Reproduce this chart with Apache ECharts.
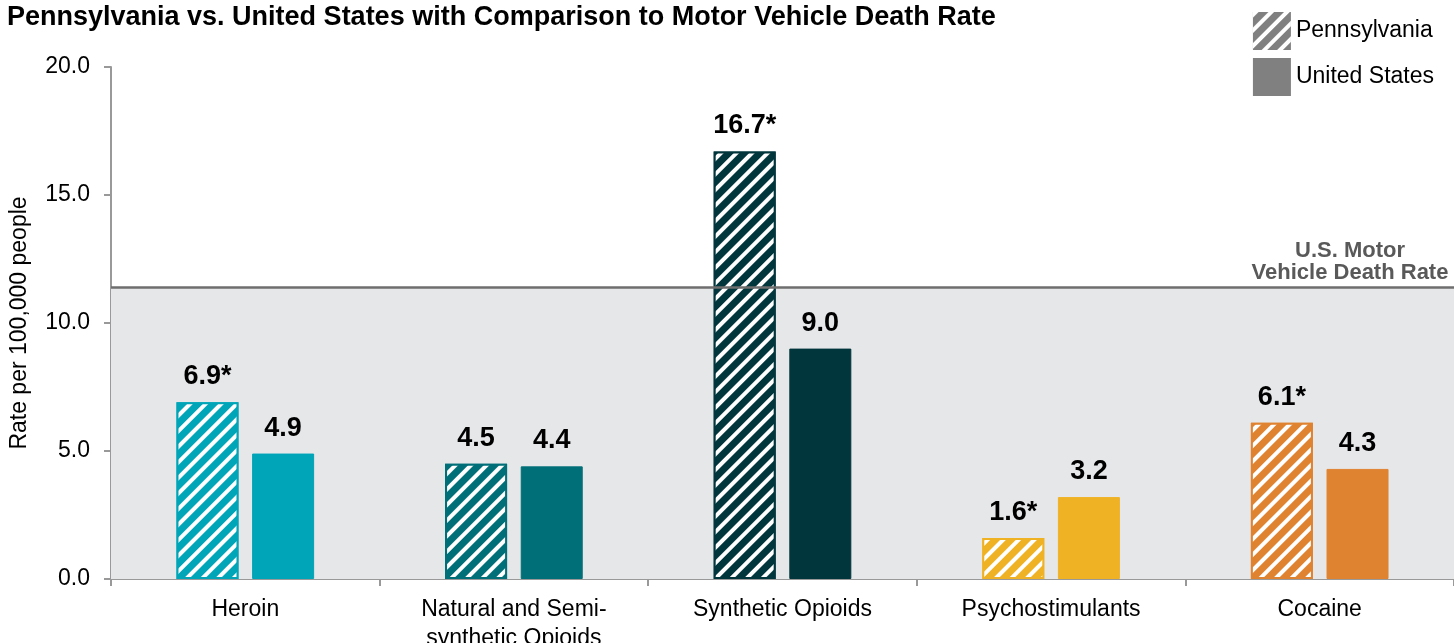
<!DOCTYPE html>
<html>
<head>
<meta charset="utf-8">
<script src="https://cdn.jsdelivr.net/npm/echarts@6/dist/echarts.min.js"></script>
<style>
  html, body { margin: 0; padding: 0; background: #fff; }
  #chart { width: 1454px; height: 643px; }
</style>
</head>
<body>
<div id="chart"></div>
<script>
const categories = ['Heroin', 'Natural and Semi-\nsynthetic Opioids', 'Synthetic Opioids', 'Psychostimulants', 'Cocaine']
const paValues = [6.9, 4.5, 16.7, 1.6, 6.1]
const paLabels = ['6.9*', '4.5', '16.7*', '1.6*', '6.1*']
const usValues = [4.9, 4.4, 9.0, 3.2, 4.3]
const usLabels = ['4.9', '4.4', '9.0', '3.2', '4.3']
const motorVehicleRate = 11.4
const barColors = ['#00a5b8', '#006f78', '#02363d', '#f0b225', '#e08331']

const FONT = 'Liberation Sans, Arial, sans-serif'

// 斜线纹理(宾州)
const hatch = {
  symbol: 'rect',
  symbolSize: 1,
  dashArrayX: [1, 0],
  dashArrayY: [4, 6.8],
  rotation: -Math.PI / 4,
  color: '#ffffff',
}

const chart = echarts.init(document.getElementById('chart'), null, { renderer: 'canvas' })

const valueLabel = (labels) => ({
  show: true,
  position: 'top',
  distance: 12,
  color: '#000',
  fontFamily: FONT,
  fontWeight: 'bold',
  fontSize: 27,
  formatter: (p) => labels[p.dataIndex],
})

chart.setOption({
  animation: false,
  title: {
    text: 'Pennsylvania vs. United States with Comparison to Motor Vehicle Death Rate',
    left: 2,
    top: -1,
    textStyle: { fontFamily: FONT, fontWeight: 'bold', fontSize: 27, color: '#000' },
  },
  legend: {
    orient: 'vertical',
    right: 15,
    top: 7,
    icon: 'rect',
    itemWidth: 38,
    itemHeight: 38,
    itemGap: 8,
    textStyle: { fontFamily: FONT, fontSize: 23, color: '#000', padding: [0, 0, 0, 0] },
    data: ['Pennsylvania', 'United States'],
  },
  grid: { left: 111, right: 0, top: 67, bottom: 64, containLabel: false, outerBoundsMode: 'none' },
  xAxis: {
    type: 'category',
    data: categories,
    axisLine: { lineStyle: { color: '#999', width: 2 } },
    axisTick: { show: true, length: 7, lineStyle: { color: '#999', width: 2 } },
    axisLabel: { fontFamily: FONT, fontSize: 23, color: '#000', margin: 16, lineHeight: 29, interval: 0 },
  },
  yAxis: {
    type: 'value',
    min: 0,
    max: 20,
    interval: 5,
    name: 'Rate per 100,000 people',
    nameLocation: 'middle',
    nameGap: 80,
    nameTextStyle: { fontFamily: FONT, fontSize: 23, color: '#000' },
    axisLine: { show: true, lineStyle: { color: '#999', width: 2 } },
    axisTick: { show: true, length: 7, lineStyle: { color: '#999', width: 2 } },
    splitLine: { show: false },
    axisLabel: { fontFamily: FONT, fontSize: 23, color: '#000', margin: 21, formatter: (v) => v.toFixed(1) },
  },
  series: [
    {
      name: 'Pennsylvania',
      type: 'bar',
      barWidth: 62,
      barGap: '22%',
      itemStyle: { color: '#808080', decal: hatch },
      data: paValues.map((v, i) => ({
        value: v,
        itemStyle: { color: barColors[i], borderColor: barColors[i], borderWidth: 2 },
      })),
      label: valueLabel(paLabels),
      markArea: {
        silent: true,
        itemStyle: { color: '#e6e7e9' },
        data: [[{ yAxis: 0 }, { yAxis: motorVehicleRate }]],
      },
      markLine: {
        silent: true,
        symbol: 'none',
        lineStyle: { color: '#6e6e6e', width: 2.5, type: 'solid' },
        label: {
          position: 'insideEndTop',
          distance: [2, 3],
          formatter: '{a|U.S. Motor}\n{a|Vehicle Death Rate}',
          rich: {
            a: {
              width: 204,
              align: 'center',
              fontFamily: FONT,
              fontWeight: 'bold',
              fontSize: 22,
              lineHeight: 22,
              color: '#595959',
            },
          },
        },
        data: [{ yAxis: motorVehicleRate }],
      },
      z: 3,
    },
    {
      name: 'United States',
      type: 'bar',
      barWidth: 62,
      itemStyle: { color: '#808080' },
      data: usValues.map((v, i) => ({
        value: v,
        itemStyle: { color: barColors[i], borderColor: barColors[i], borderWidth: 1 },
      })),
      label: valueLabel(usLabels),
      z: 3,
    },
  ],
})
</script>
</body>
</html>
